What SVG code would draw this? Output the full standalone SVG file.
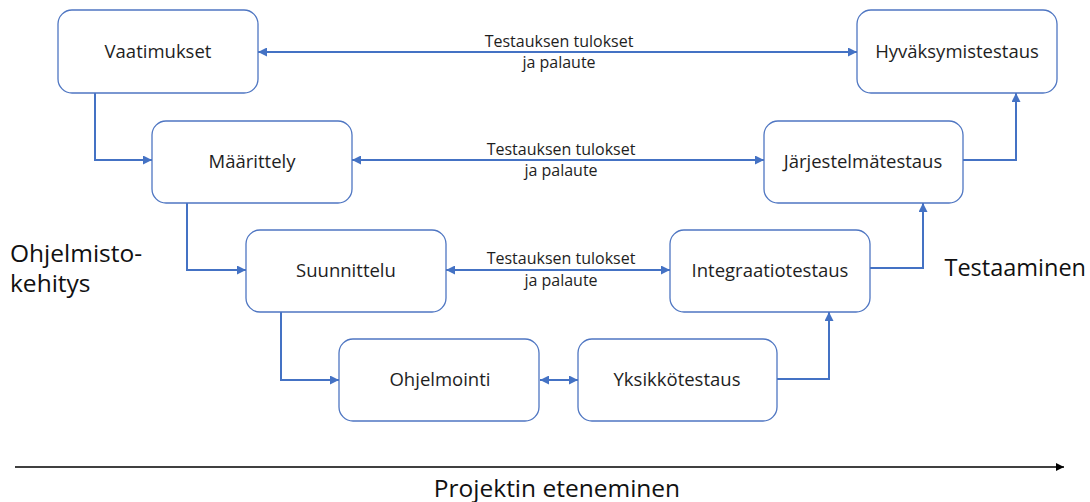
<svg xmlns="http://www.w3.org/2000/svg" width="1090" height="502" viewBox="0 0 1090 502">
<style>
.node rect{fill:#fff;stroke:#4f76c2;stroke-width:1.3}
.node text{font-family:"Open Sans","Liberation Sans",sans-serif;font-size:18.5px;fill:#1e1e1e;text-anchor:middle}
.conn path{fill:none;stroke:#4472c4;stroke-width:2}
.lbl{font-family:"Open Sans","Liberation Sans",sans-serif;font-size:16px;fill:#1e1e1e;text-anchor:middle}
.big{font-family:"Open Sans","Liberation Sans",sans-serif;font-size:24.5px;fill:#111}
</style>
<defs>
<marker id="a" viewBox="0 0 10 10" refX="10" refY="5" markerWidth="9" markerHeight="9" markerUnits="userSpaceOnUse" orient="auto-start-reverse">
<path d="M0,0 L10,5 L0,10 z" fill="#4472c4"/>
</marker>
<marker id="k" viewBox="0 0 10 10" refX="10" refY="5" markerWidth="8" markerHeight="8" markerUnits="userSpaceOnUse" orient="auto">
<path d="M0,0 L10,5 L0,10 z" fill="#000"/>
</marker>
</defs>
<rect width="1090" height="502" fill="#fff"/>
<g class="conn">
<path d="M95,93 V160 H152" marker-end="url(#a)"/>
<path d="M187,203 V270 H246" marker-end="url(#a)"/>
<path d="M281,312 V380 H339" marker-end="url(#a)"/>
<path d="M777,379 H829 V312" marker-end="url(#a)"/>
<path d="M870,268 H923 V203" marker-end="url(#a)"/>
<path d="M963,160 H1016 V93" marker-end="url(#a)"/>
<path d="M258,52 H857" marker-start="url(#a)" marker-end="url(#a)"/>
<path d="M352,160 H764" marker-start="url(#a)" marker-end="url(#a)"/>
<path d="M446,270 H670" marker-start="url(#a)" marker-end="url(#a)"/>
<path d="M540,380 H578" marker-start="url(#a)" marker-end="url(#a)"/>
</g>
<text class="lbl" x="559" y="47">Testauksen tulokset</text>
<text class="lbl" x="559" y="68">ja palaute</text>
<text class="lbl" x="561" y="155">Testauksen tulokset</text>
<text class="lbl" x="561" y="176">ja palaute</text>
<text class="lbl" x="561" y="264">Testauksen tulokset</text>
<text class="lbl" x="561" y="286">ja palaute</text>
<g id="vaatimukset" class="node"><rect x="58" y="10" width="200" height="83" rx="14"/><text x="158" y="58">Vaatimukset</text></g>
<g id="maarittely" class="node"><rect x="152" y="121" width="200" height="82" rx="14"/><text x="252" y="168">Määrittely</text></g>
<g id="suunnittelu" class="node"><rect x="246" y="230" width="200" height="82" rx="14"/><text x="346" y="277">Suunnittelu</text></g>
<g id="ohjelmointi" class="node"><rect x="339" y="339" width="200" height="82" rx="14"/><text x="440" y="386">Ohjelmointi</text></g>
<g id="yksikkotestaus" class="node"><rect x="578" y="339" width="199" height="82" rx="14"/><text x="677" y="386">Yksikkötestaus</text></g>
<g id="integraatiotestaus" class="node"><rect x="670" y="230" width="200" height="82" rx="14"/><text x="770" y="277">Integraatiotestaus</text></g>
<g id="jarjestelmatestaus" class="node"><rect x="764" y="121" width="199" height="82" rx="14"/><text x="863" y="168">Järjestelmätestaus</text></g>
<g id="hyvaksymistestaus" class="node"><rect x="857" y="10" width="200" height="83" rx="14"/><text x="957" y="58">Hyväksymistestaus</text></g>
<text class="big" x="10" y="262">Ohjelmisto-</text>
<text class="big" x="10" y="292">kehitys</text>
<text class="big" x="1086" y="276" text-anchor="end" style="font-size:23.5px">Testaaminen</text>
<path d="M15,467 H1064" stroke="#000" stroke-width="1.5" fill="none" marker-end="url(#k)"/>
<text class="big" x="557" y="497" text-anchor="middle">Projektin eteneminen</text>
</svg>
